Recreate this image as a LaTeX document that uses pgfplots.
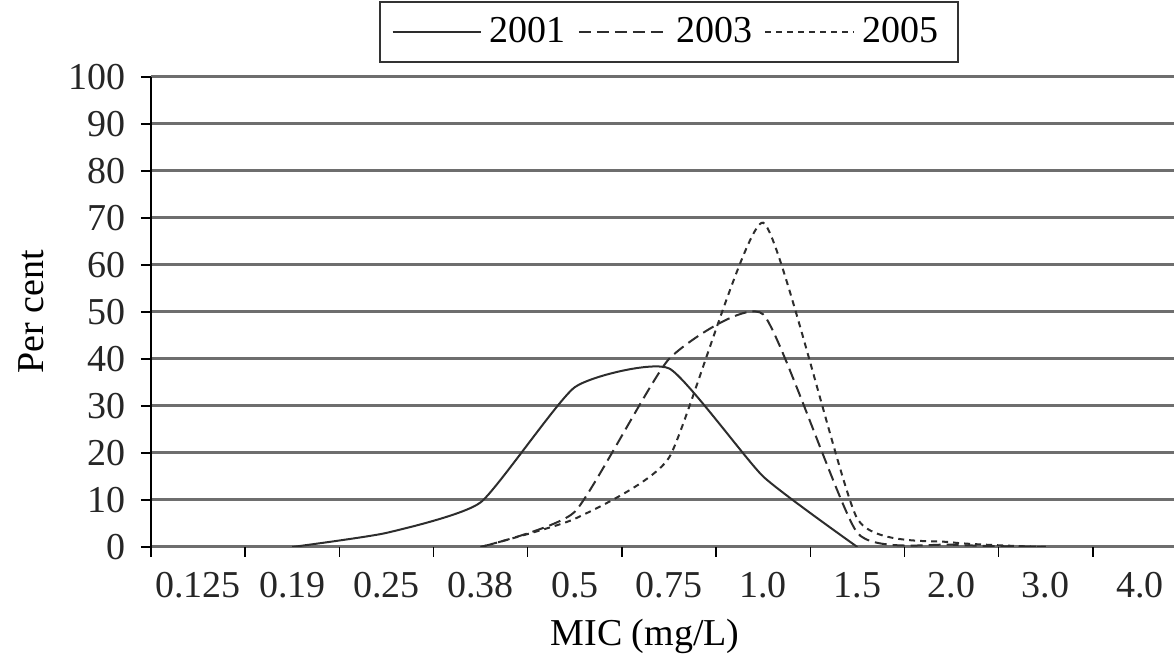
\documentclass[border=0pt]{standalone}
\usepackage{fontspec}
\setmainfont{Liberation Serif}
\usepackage{pgfplots}
\pgfplotsset{compat=1.18}
\definecolor{gridgray}{RGB}{110,110,110}
\definecolor{lineg}{RGB}{45,45,45}
\begin{document}
\begin{tikzpicture}
\begin{axis}[
  scale only axis, width=518pt, height=235pt,
  xmin=-0.5, xmax=10.5, ymin=0, ymax=100,
  axis lines*=left,
  x axis line style={draw=none},
  y axis line style={draw=black, line width=0.7pt},
  tick align=outside,
  major tick length=5pt,
  xtick={0,1,2,3,4,5,6,7,8,9,10},
  xticklabels={0.125,0.19,0.25,0.38,0.5,0.75,1.0,1.5,2.0,3.0,4.0},
  xtick style={draw=none},
  minor xtick={-0.5,0.5,1.5,2.5,3.5,4.5,5.5,6.5,7.5,8.5,9.5,10.5},
  minor x tick style={draw=black, line width=0.7pt},
  minor tick length=5pt,
  ytick={0,10,...,100},
  ytick style={draw=black, line width=0.7pt},
  ymajorgrids,
  grid style={gridgray, line width=1.5pt},
  /pgf/number format/assume math mode=true,
  tick label style={font=\fontsize{19}{22}\selectfont, text=black!85},
  xticklabel style={yshift=-4pt},
  yticklabel style={xshift=-4pt},
  every axis x label/.style={at={(axis description cs:0.477,-0.191)}, anchor=center, font=\fontsize{19}{22}\selectfont},
  every axis y label/.style={at={(axis description cs:-0.116,0.5)}, rotate=90, anchor=center, font=\fontsize{19}{22}\selectfont},
  xlabel={MIC (mg/L)},
  ylabel={Per cent},
  legend columns=3,
  legend style={at={(0.5,1)}, anchor=south, yshift=7pt, draw=black!80, line width=1.1pt,
    font=\fontsize{19}{22}\selectfont, inner xsep=6pt, inner ysep=2pt,
    nodes={inner xsep=4pt, inner ysep=6pt},
    /tikz/every even column/.append style={column sep=2pt}},
  legend image code/.code={\draw[#1] (0cm,0cm) -- (1.55cm,0cm);},
]
\addplot[lineg, line width=1pt, smooth, tension=0.3] coordinates {
  (1,0) (2,3) (3,9.5) (4,34) (5,38) (6,15) (7,0)};
\addlegendentry{2001}
\addplot[lineg, line width=1pt, smooth, tension=0.3, dash pattern=on 6pt off 3pt] coordinates {
  (3,0) (4,7.5) (5,40) (6,49.5) (7,3) (8,0.5) (9,0)};
\addlegendentry{2003}
\addplot[lineg, line width=1pt, smooth, tension=0.3, dash pattern=on 3pt off 2.5pt] coordinates {
  (3,0) (4,6) (5,19) (6,69) (7,6) (8,1) (9,0)};
\addlegendentry{2005}
\end{axis}
\pgfresetboundingbox
\path[use as bounding box] (-75.5pt,-55.5pt) rectangle (511.5pt,273.5pt);
\end{tikzpicture}
\end{document}
